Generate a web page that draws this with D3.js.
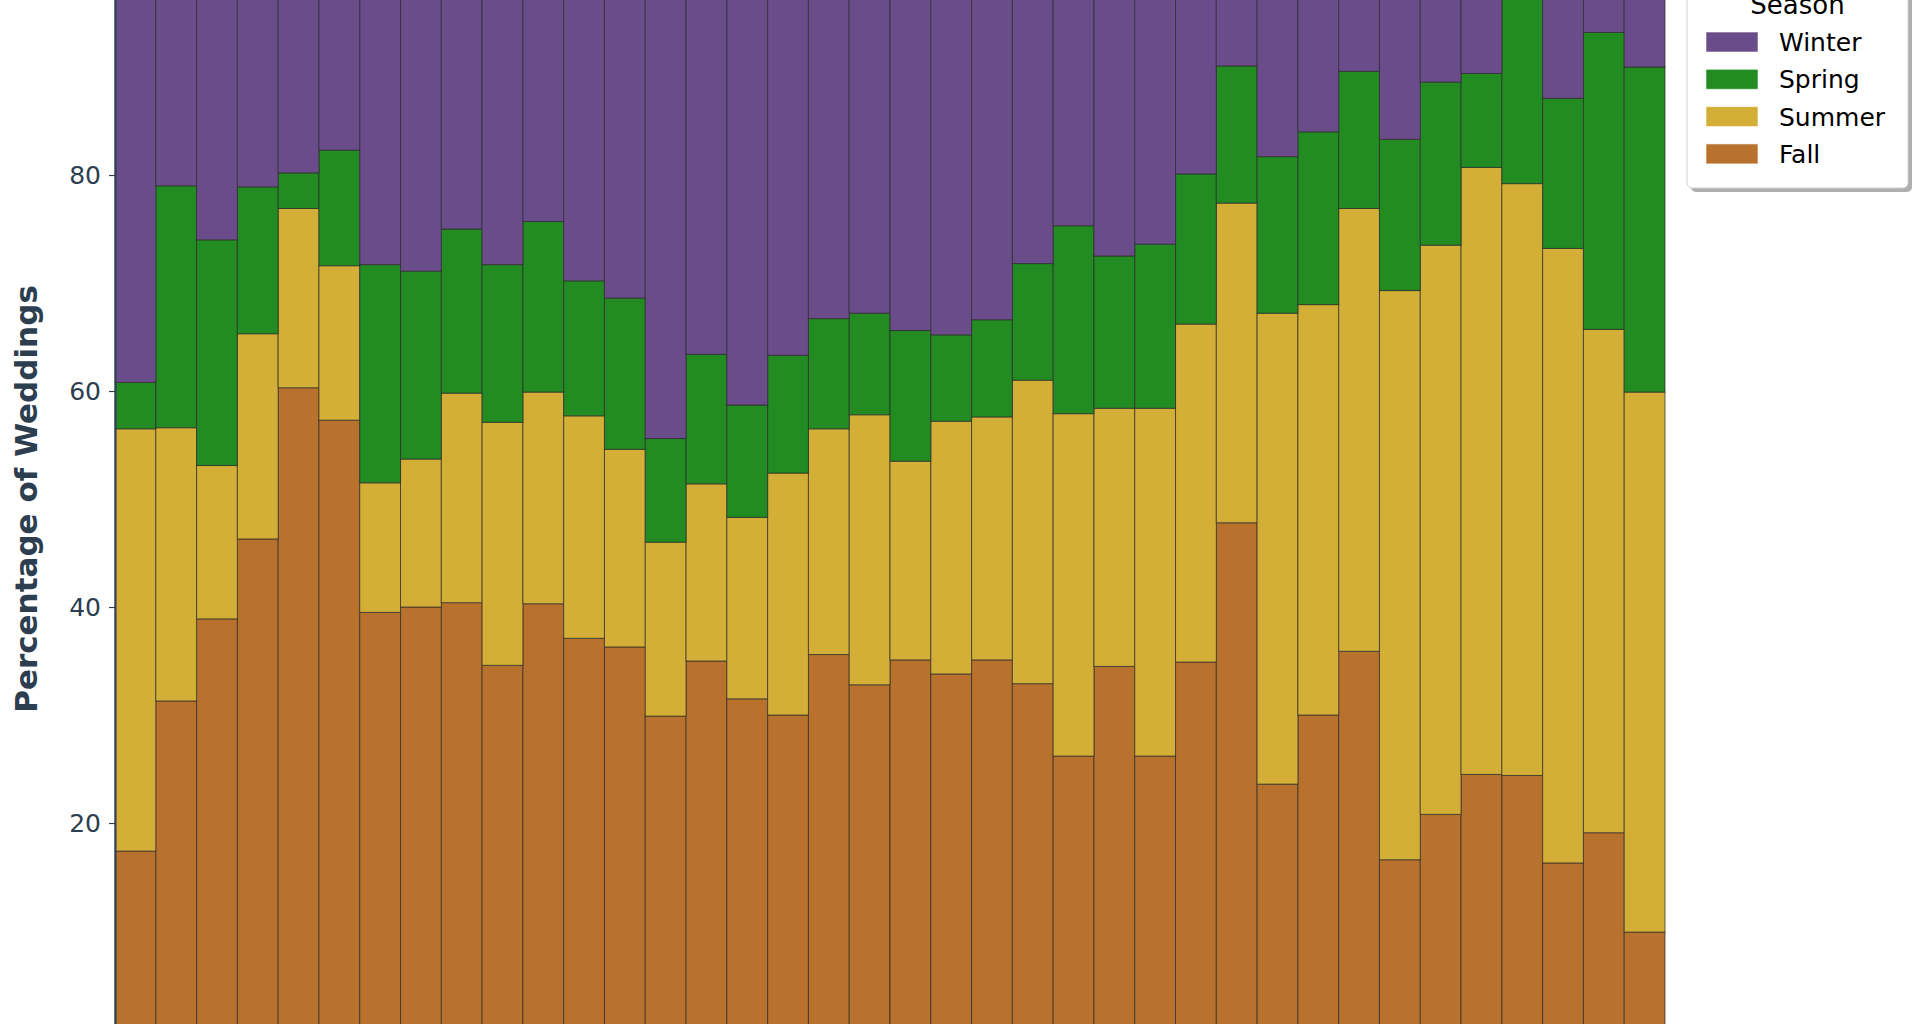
<!DOCTYPE html>
<html>
<head>
<meta charset="utf-8">
<script src="https://cdn.jsdelivr.net/npm/d3@7"></script>
<style>
  html, body { margin: 0; padding: 0; background: #ffffff; overflow: hidden; }
  svg { display: block; }
</style>
</head>
<body>
<svg id="chart" width="1920" height="1024"></svg>
<script>
// ---- data (percent of weddings per season, one entry per bar) ----
const categories = d3.range(1980, 2018).map(String);
const fall   = [17.4,31.3,38.9,46.3,60.3,57.3,39.5,40.0,40.4,34.6,40.3,37.1,36.3,29.9,35.0,31.5,30.0,35.6,32.8,35.1,33.8,35.1,32.9,26.2,34.5,26.2,34.9,47.8,23.6,30.0,35.9,16.6,20.8,24.5,24.4,16.3,19.1,9.9];
const summer = [39.1,25.3,14.2,19.0,16.6,14.3,12.0,13.7,19.4,22.5,19.6,20.6,18.3,16.1,16.4,16.8,22.4,20.9,25.0,18.4,23.4,22.5,28.1,31.7,23.9,32.2,31.3,29.6,43.6,38.0,41.0,52.7,52.7,56.2,54.8,56.9,46.6,50.0];
const spring = [4.3,22.4,20.9,13.6,3.3,10.7,20.2,17.4,15.2,14.6,15.8,12.5,14.0,9.6,12.0,10.4,10.9,10.2,9.4,12.1,8.0,9.0,10.8,17.4,14.1,15.2,13.9,12.7,14.5,16.0,12.7,14.0,15.1,8.7,18.3,13.9,27.5,30.1];
const winter = [39.2,21.0,26.0,21.1,19.8,17.7,28.3,28.9,25.0,28.3,24.3,29.8,31.4,44.4,36.6,41.3,36.7,33.3,32.8,34.4,34.8,33.4,28.2,24.7,27.5,26.4,19.9,9.9,18.3,16.0,10.4,16.7,11.4,10.6,2.5,12.9,6.8,10.0];
const seasons = ["Fall", "Summer", "Spring", "Winter"];          // stacking order, bottom -> top
const legendOrder = ["Winter", "Spring", "Summer", "Fall"];
const yTicks = [20, 40, 60, 80];
const yLabel = "Percentage of Weddings";
const legendTitle = "Season";

const colors = { Winter: "#6a4c8a", Spring: "#228b22", Summer: "#d4af37", Fall: "#b8722e" };

const rows = categories.map((c, i) => ({ cat: c, Fall: fall[i], Summer: summer[i], Spring: spring[i], Winter: winter[i] }));

// ---- layout ----
const svg = d3.select("#chart");
const plotLeft = 115, plotRight = 1665;
const yTop = -41, yBottom = 1039;

const x = d3.scaleBand().domain(categories).range([plotLeft, plotRight]).padding(0);
const y = d3.scaleLinear().domain([0, 100]).range([yBottom, yTop]);

const stacked = d3.stack().keys(seasons)(rows);

const gBars = svg.append("g");
gBars.selectAll("g.layer")
  .data(stacked)
  .join("g")
  .attr("class", "layer")
  .attr("fill", d => colors[d.key])
  .selectAll("rect")
  .data(d => d)
  .join("rect")
  .attr("x", d => x(d.data.cat))
  .attr("width", x.bandwidth())
  .attr("y", d => y(d[1]))
  .attr("height", d => y(d[0]) - y(d[1]))
  .attr("stroke", "#2a2a2a")
  .attr("stroke-opacity", 0.7)
  .attr("stroke-width", 1);

// ---- y axis ----
const axisColor = "#2c3e50";
const yAxis = svg.append("g")
  .attr("transform", `translate(${plotLeft},0)`)
  .call(d3.axisLeft(y).tickValues(yTicks).tickSize(6).tickPadding(8).tickFormat(d3.format("d")));
yAxis.select(".domain").attr("stroke", axisColor).attr("stroke-width", 2);
yAxis.selectAll(".tick line").attr("stroke", axisColor).attr("stroke-width", 1.2);
yAxis.selectAll(".tick text")
  .attr("fill", axisColor)
  .style("font-family", "'DejaVu Sans', sans-serif")
  .style("font-size", "25px");

svg.append("text")
  .attr("transform", `translate(36.5, ${(yTop + yBottom) / 2}) rotate(-90)`)
  .attr("text-anchor", "middle")
  .attr("fill", axisColor)
  .style("font-family", "'DejaVu Sans', sans-serif")
  .style("font-weight", "bold")
  .style("font-size", "31px")
  .text(yLabel);

// ---- legend ----
const lg = svg.append("g");
const lx0 = 1687, lx1 = 1908, ly0 = -30, ly1 = 188;
lg.append("rect")
  .attr("x", lx0 + 4).attr("y", ly0 + 4)
  .attr("width", lx1 - lx0).attr("height", ly1 - ly0)
  .attr("rx", 5).attr("fill", "#9a9a9a").attr("opacity", 0.8);
lg.append("rect")
  .attr("x", lx0).attr("y", ly0)
  .attr("width", lx1 - lx0).attr("height", ly1 - ly0)
  .attr("rx", 5).attr("fill", "#ffffff").attr("stroke", "#d0d0d0").attr("stroke-width", 1);
lg.append("text")
  .attr("x", (lx0 + lx1) / 2).attr("y", 14)
  .attr("text-anchor", "middle")
  .attr("fill", "#000")
  .style("font-family", "'DejaVu Sans', sans-serif")
  .style("font-size", "26px")
  .text(legendTitle);
const item = lg.selectAll("g.item")
  .data(legendOrder)
  .join("g")
  .attr("class", "item")
  .attr("transform", (d, i) => `translate(0, ${42 + i * 37.3})`);
item.append("rect")
  .attr("x", 1706).attr("y", -10)
  .attr("width", 52).attr("height", 20)
  .attr("fill", d => colors[d])
  .attr("stroke", "#ffffff").attr("stroke-opacity", 0.6).attr("stroke-width", 1);
item.append("text")
  .attr("x", 1779).attr("y", 9)
  .attr("fill", "#000")
  .style("font-family", "'DejaVu Sans', sans-serif")
  .style("font-size", "25px")
  .text(d => d);
</script>
</body>
</html>
